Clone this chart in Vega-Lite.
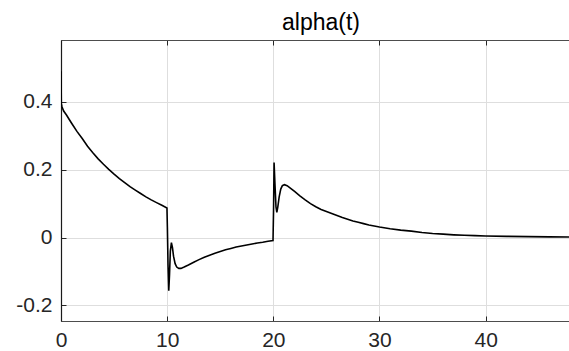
{
  "$schema": "https://vega.github.io/schema/vega-lite/v6.json",
  "autosize": {"type": "none"},
  "padding": {"left": 61, "top": 40, "right": 0, "bottom": 30},
  "width": 508,
  "height": 281,
  "background": "white",
  "title": {"text": "alpha(t)", "font": "Liberation Sans", "fontSize": 23, "fontWeight": "normal", "color": "#000000", "anchor": "middle", "frame": "group", "baseline": "alphabetic", "offset": -13, "dx": 6},
  "config": {
    "view": {"stroke": null},
    "font": "Liberation Sans",
    "axis": {"labelFont": "Liberation Sans", "labelFontSize": 21, "labelColor": "#262626", "title": null, "gridColor": "#dedede", "gridWidth": 1, "tickColor": "#262626", "tickWidth": 1, "domainColor": "#333333", "domainWidth": 1.2, "labelFlush": false}
  },
  "data": {"values": [
    {"t": 0, "a": 0.49}, {"t": 0.03, "a": 0.395}, {"t": 0.1, "a": 0.385}, {"t": 0.25, "a": 0.373},
    {"t": 0.5, "a": 0.362}, {"t": 1, "a": 0.337}, {"t": 1.5, "a": 0.313}, {"t": 2, "a": 0.292},
    {"t": 2.5, "a": 0.269}, {"t": 3, "a": 0.25}, {"t": 3.5, "a": 0.232}, {"t": 4, "a": 0.216},
    {"t": 4.5, "a": 0.201}, {"t": 5, "a": 0.187}, {"t": 5.5, "a": 0.174}, {"t": 6, "a": 0.162},
    {"t": 6.5, "a": 0.15}, {"t": 7, "a": 0.14}, {"t": 7.5, "a": 0.13}, {"t": 8, "a": 0.12},
    {"t": 8.5, "a": 0.111}, {"t": 9, "a": 0.103}, {"t": 9.5, "a": 0.095}, {"t": 9.98, "a": 0.087},
    {"t": 10.02, "a": 0.03}, {"t": 10.08, "a": -0.08}, {"t": 10.15, "a": -0.157}, {"t": 10.22, "a": -0.11},
    {"t": 10.3, "a": -0.04}, {"t": 10.4, "a": -0.015}, {"t": 10.5, "a": -0.03}, {"t": 10.6, "a": -0.055},
    {"t": 10.75, "a": -0.077}, {"t": 10.9, "a": -0.087}, {"t": 11.1, "a": -0.091}, {"t": 11.3, "a": -0.091},
    {"t": 11.6, "a": -0.087}, {"t": 12, "a": -0.081}, {"t": 12.5, "a": -0.073}, {"t": 13, "a": -0.065},
    {"t": 13.5, "a": -0.058}, {"t": 14, "a": -0.052}, {"t": 14.5, "a": -0.046}, {"t": 15, "a": -0.041},
    {"t": 15.5, "a": -0.036}, {"t": 16, "a": -0.032}, {"t": 16.5, "a": -0.028}, {"t": 17, "a": -0.025},
    {"t": 17.5, "a": -0.022}, {"t": 18, "a": -0.019}, {"t": 18.5, "a": -0.016}, {"t": 19, "a": -0.014},
    {"t": 19.5, "a": -0.011}, {"t": 19.97, "a": -0.009},
    {"t": 20.02, "a": 0.08}, {"t": 20.07, "a": 0.221}, {"t": 20.15, "a": 0.16}, {"t": 20.25, "a": 0.09},
    {"t": 20.33, "a": 0.074}, {"t": 20.42, "a": 0.09}, {"t": 20.55, "a": 0.12}, {"t": 20.7, "a": 0.143},
    {"t": 20.85, "a": 0.153}, {"t": 21.05, "a": 0.156}, {"t": 21.3, "a": 0.153}, {"t": 21.6, "a": 0.146},
    {"t": 22, "a": 0.136}, {"t": 22.5, "a": 0.123}, {"t": 23, "a": 0.111}, {"t": 23.5, "a": 0.1},
    {"t": 24, "a": 0.091}, {"t": 24.5, "a": 0.083}, {"t": 25, "a": 0.077}, {"t": 25.5, "a": 0.071},
    {"t": 26, "a": 0.065}, {"t": 26.5, "a": 0.059}, {"t": 27, "a": 0.054}, {"t": 27.5, "a": 0.049},
    {"t": 28, "a": 0.045}, {"t": 28.5, "a": 0.041}, {"t": 29, "a": 0.037}, {"t": 29.5, "a": 0.034},
    {"t": 30, "a": 0.031}, {"t": 31, "a": 0.026}, {"t": 32, "a": 0.022}, {"t": 33, "a": 0.019},
    {"t": 34, "a": 0.015}, {"t": 35, "a": 0.012}, {"t": 36, "a": 0.01}, {"t": 37, "a": 0.008},
    {"t": 38, "a": 0.0066}, {"t": 39, "a": 0.0056}, {"t": 40, "a": 0.0047}, {"t": 42, "a": 0.0035},
    {"t": 44, "a": 0.0027}, {"t": 46, "a": 0.0021}, {"t": 48, "a": 0.0017}
  ]},
  "layer": [
    {
      "mark": {"type": "line", "color": "#000000", "strokeWidth": 1.6, "clip": true, "interpolate": "linear"},
      "encoding": {
        "x": {"field": "t", "type": "quantitative", "scale": {"domain": [0, 47.85], "nice": false, "zero": false},
              "axis": {"orient": "bottom", "values": [0, 10, 20, 30, 40], "format": "d", "tickSize": -5, "labelPadding": 13, "grid": true, "domainColor": "#4d4d4d"}},
        "y": {"field": "a", "type": "quantitative", "scale": {"domain": [-0.246, 0.5824], "nice": false, "zero": false},
              "axis": {"orient": "left", "values": [-0.2, 0, 0.2, 0.4], "format": "~g", "labelExpr": "replace(datum.label, '\u2212', '-')", "tickSize": -5, "labelPadding": 14, "grid": true, "domainColor": "#1a1a1a"}}
      }
    },
    {
      "mark": {"type": "line", "strokeOpacity": 0, "clip": true},
      "encoding": {
        "x": {"field": "t", "type": "quantitative",
              "axis": {"orient": "top", "values": [0, 10, 20, 30, 40], "labels": false, "tickSize": -5, "grid": false, "domainColor": "#4d4d4d"}},
        "y": {"field": "a", "type": "quantitative", "axis": null}
      }
    }
  ],
  "resolve": {"axis": {"x": "independent", "y": "independent"}}
}
